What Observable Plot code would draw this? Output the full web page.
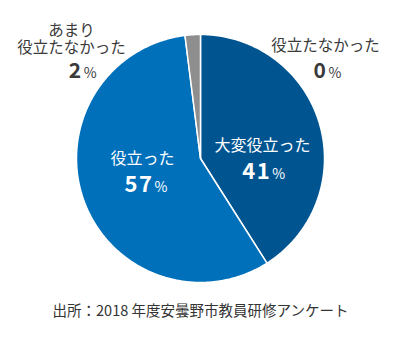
<!DOCTYPE html>
<html><head><meta charset="utf-8">
<script src="https://cdn.jsdelivr.net/npm/d3@7"></script>
<script src="https://cdn.jsdelivr.net/npm/@observablehq/plot@0.6"></script>
<style>
body{margin:0;background:#fff;font-family:"Noto Sans CJK JP",sans-serif;}
#chart{width:401px;}
.caption{width:401px;text-align:center;font-size:14.5px;color:#333;line-height:28px;height:28px;font-family:"Noto Sans CJK JP",sans-serif;}
</style></head><body>
<div id="chart"></div>
<div class="caption" id="cap"></div>
<script>
// ---- data ----
const categories = ["大変役立った", "役立った", "あまり\n役立たなかった", "役立たなかった"];
const values = [41, 57, 2, 0];
const captionText = "出所：2018 年度安曇野市教員研修アンケート";

// ---- styles / layout ----
const sliceColors = ["#005591", "#0070bb", "#8e8e8e", "#bbbbbb"];
const insideFlags = [true, true, false, false];
// label anchors in unit-circle coordinates (y down)
const nameAnchor = [[0.5, -0.105], [-0.468, 0.0], [-1.04, -0.965], [1.008, -0.91]];
const numAnchor = [[0.51, 0.112], [-0.44, 0.217], [-0.95, -0.70], [1.024, -0.70]];

const arcs = d3.pie().sort(null).value(d => d)(values);
const pt = a => [Math.sin(a), -Math.cos(a)];
const features = [];
arcs.forEach((a, i) => {
  if (a.endAngle - a.startAngle <= 0) return;
  const ring = [[0, 0]];
  const n = Math.max(2, Math.ceil((a.endAngle - a.startAngle) / (Math.PI / 360)));
  for (let k = 0; k <= n; k++) ring.push(pt(a.startAngle + (a.endAngle - a.startAngle) * k / n));
  ring.push([0, 0]);
  features.push({type: "Feature", properties: {category: categories[i]}, geometry: {type: "Polygon", coordinates: [ring]}});
});
const circleRing = d3.range(0, 361).map(d => pt(d * Math.PI / 180));
const domain = {type: "Polygon", coordinates: [circleRing]};

const labels = categories.map((c, i) => ({
  name: c, pct: values[i] + "%", inside: insideFlags[i],
  nx: nameAnchor[i][0], ny: nameAnchor[i][1], px: numAnchor[i][0], py: numAnchor[i][1]
}));
const inL = labels.filter(d => d.inside), outL = labels.filter(d => !d.inside);

const font = "Noto Sans CJK JP";
const plot = Plot.plot({
  width: 401, height: 296,
  marginLeft: 76, marginRight: 77, marginTop: 34, marginBottom: 14,
  projection: {type: "identity", domain, clip: false},
  color: {domain: categories, range: sliceColors},
  style: {fontFamily: font},
  marks: [
    Plot.geo(features, {fill: d => d.properties.category, stroke: "white", strokeWidth: 1.5}),
    Plot.text(inL, {x: "nx", y: "ny", text: "name", fill: "white", fontSize: 16, lineHeight: 1, fontFamily: font}),
    Plot.text(outL, {x: "nx", y: "ny", text: "name", fill: "#3a3a3a", fontSize: 15.5, lineHeight: 1.12, fontFamily: font}),
    Plot.text(inL, {x: "px", y: "py", text: "pct", fill: "white", fontSize: 22, fontWeight: "bold", fontFamily: font}),
    Plot.text(outL, {x: "px", y: "py", text: "pct", fill: "#3a3a3a", fontSize: 21, fontWeight: "bold", fontFamily: font})
  ]
});
// split numbers and % signs into differently sized tspans
d3.select(plot).selectAll("text").each(function () {
  const t = this.textContent;
  const m = /^(\d+)%$/.exec(t);
  if (!m) return;
  const sel = d3.select(this);
  sel.text(null);
  sel.append("tspan").attr("letter-spacing", 1.5).text(m[1]);
  sel.append("tspan").attr("dx", 1).attr("font-size", 14).attr("font-weight", "normal").text("%");
});
document.getElementById("chart").appendChild(plot);
document.getElementById("cap").textContent = captionText;
</script>
</body></html>
